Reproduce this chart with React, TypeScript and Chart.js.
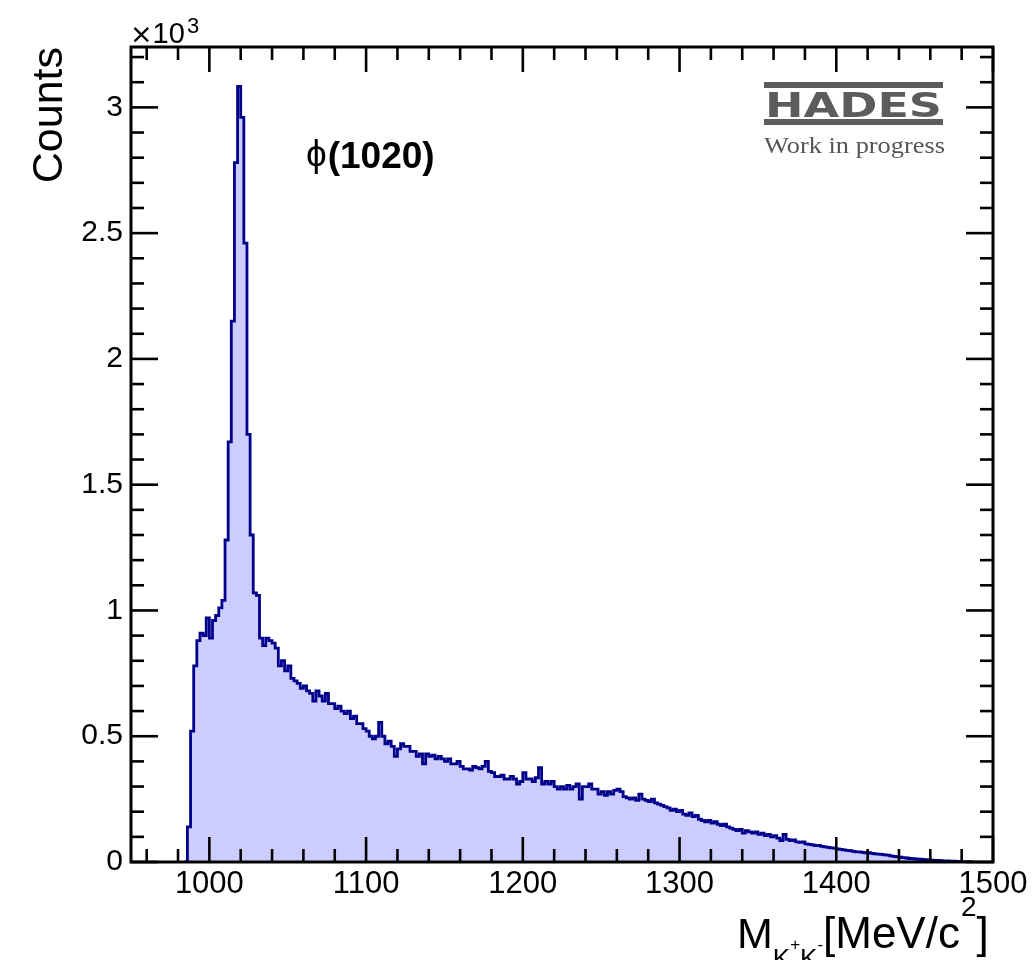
import React, { useEffect, useRef } from "react";
import { Chart, registerables } from "chart.js";

Chart.register(...registerables);

// ---- data ----
const binLow = 986; // low edge of first filled bin [MeV/c^2]
const binWidth = 2; // MeV/c^2
const counts = [
  140, 520, 780, 880, 910, 900, 970, 890, 960, 980,
  1010, 1040, 1280, 1670, 2150, 2780, 3083, 2960, 2460, 1700,
  1300, 1070, 1060, 890, 860, 890, 880, 870, 850, 780,
  800, 760, 780, 730, 720, 710, 690, 700, 680, 670,
  640, 680, 660, 640, 670, 630, 630, 610, 620, 600,
  590, 600, 570, 580, 550, 550, 530, 520, 500, 490,
  500, 555, 500, 470, 480, 460, 420, 450, 470, 460,
  460, 440, 440, 420, 430, 390, 430, 420, 425, 410,
  420, 410, 400, 410, 390, 390, 400, 380, 370, 370,
  365, 380, 375, 370, 380, 400, 360, 355, 340, 340,
  345, 330, 330, 340, 330, 310, 320, 355, 330, 330,
  320, 335, 375, 310, 320, 310, 320, 300, 290, 300,
  290, 305, 290, 300, 310, 250, 300, 300, 310, 290,
  290, 270, 280, 265, 280, 270, 285, 290, 280, 260,
  255, 250, 255, 245, 270, 250, 245, 240, 250, 235,
  230, 225, 220, 215, 205, 210, 200, 205, 190, 185,
  195, 180, 185, 170, 165, 160, 165, 155, 160, 150,
  145, 150, 140, 135, 130, 125, 130, 115, 125, 120,
  115, 120, 110, 115, 105, 110, 100, 105, 95, 85,
  110, 90, 85, 88, 80, 78, 80, 72, 70, 68,
  65, 66, 62, 60, 58, 56, 55, 52, 50, 48,
  46, 45, 42, 40, 40, 38, 36, 37, 34, 32,
  31, 30, 28, 27, 24, 22, 20, 19, 17, 16,
  14, 13, 12, 11, 10, 9, 8, 7, 6, 6,
  5, 4, 4, 3, 3, 2, 2, 1, 1, 1,
];
const xRange = [950, 1500];
const yRange = [0, 3240];
const xMajorTicks = [1000, 1100, 1200, 1300, 1400, 1500];
const yMajorTicks = [0, 500, 1000, 1500, 2000, 2500, 3000];
const minorDivisions = 5;
const yTitle = "Counts";
const yExponent = ["\u00d7", "10", "3"];
const peakSymbol = "\u03d5";
const peakText = "(1020)";
const logoName = "HADES";
const logoSub = "Work in progress";

const SANS = "'Liberation Sans', Arial, Helvetica, sans-serif";
const SERIF = "'Liberation Serif', 'DejaVu Serif', serif";

const rootStyle = {
  id: "rootStyle",
  afterDraw(chart: any) {
    const { ctx, chartArea: a, scales } = chart;
    const x = scales.x;
    const y = scales.y;
    ctx.save();
    ctx.strokeStyle = "#000";
    ctx.lineCap = "butt";

    const seg = (x1: number, y1: number, x2: number, y2: number) => {
      ctx.beginPath();
      ctx.moveTo(x1, y1);
      ctx.lineTo(x2, y2);
      ctx.stroke();
    };

    // inward ticks on all four sides
    ctx.lineWidth = 2.6;
    const xMajStep = xMajorTicks[1] - xMajorTicks[0];
    const xMin = xMajStep / minorDivisions;
    const x0 = xMajorTicks[0];
    for (let k = Math.ceil((x.min - x0) / xMin); x0 + k * xMin <= x.max + 1e-9; k++) {
      const v = x0 + k * xMin;
      const px = x.getPixelForValue(v);
      const len = k % minorDivisions === 0 ? 25 : 13;
      seg(px, a.bottom, px, a.bottom - len);
      seg(px, a.top, px, a.top + len);
    }
    const yMajStep = yMajorTicks[1] - yMajorTicks[0];
    const yMin = yMajStep / minorDivisions;
    const y0 = yMajorTicks[0];
    for (let k = Math.ceil((y.min - y0) / yMin); y0 + k * yMin <= y.max + 1e-9; k++) {
      const v = y0 + k * yMin;
      const py = y.getPixelForValue(v);
      const len = k % minorDivisions === 0 ? 27 : 13;
      seg(a.left, py, a.left + len, py);
      seg(a.right, py, a.right - len, py);
    }

    // frame
    ctx.lineWidth = 3;
    ctx.strokeRect(a.left, a.top, a.right - a.left, a.bottom - a.top);

    ctx.fillStyle = "#000";
    ctx.textBaseline = "alphabetic";
    ctx.textAlign = "left";

    // y title (rotated, right-aligned to top of frame)
    ctx.save();
    ctx.translate(62, a.top);
    ctx.rotate(-Math.PI / 2);
    ctx.font = `43px ${SANS}`;
    ctx.textAlign = "right";
    ctx.fillText(yTitle, 0, 0);
    ctx.restore();

    let cx = 0;
    const put = (t: string, size: number, by: number, bold = false, fam = SANS) => {
      ctx.font = `${bold ? "bold " : ""}${size}px ${fam}`;
      ctx.fillText(t, cx, by);
      cx += ctx.measureText(t).width;
    };

    // x10^3 exponent
    cx = a.left - 1;
    put(yExponent[0], 27, 43, false, `'DejaVu Sans', ${SANS}`);
    put(yExponent[1], 29, 43);
    cx += 2;
    put(yExponent[2], 22, 33);

    // x title: M_{K^{+}K^{-}} [MeV/c^{2}]
    cx = 737;
    const base = 948;
    put("M", 43, base);
    put("K", 26, base + 19);
    put("+", 17, base + 2);
    put("K", 26, base + 19);
    put("-", 17, base + 2);
    cx = 823;
    put("[MeV/c", 44, base);
    cx += 1;
    put("2", 28, base - 32);
    put("]", 44, base);

    // peak label
    cx = 306;
    put(peakSymbol, 37, 166);
    cx += 1;
    put(peakText, 37, 168, true);

    // HADES logo
    const lx = 764;
    const lw = 179;
    ctx.fillStyle = "#5c5c5c";
    ctx.fillRect(lx, 82, lw, 6);
    ctx.fillRect(lx, 119, lw, 6);
    ctx.font = `bold 35px 'DejaVu Sans', ${SANS}`;
    const nw = ctx.measureText(logoName).width;
    ctx.save();
    ctx.translate(lx + 1, 117);
    ctx.scale((lw - 2) / nw, 0.98);
    ctx.fillText(logoName, 0, 0);
    ctx.restore();
    ctx.fillStyle = "#555";
    ctx.font = `23px ${SERIF}`;
    const sw = ctx.measureText(logoSub).width;
    ctx.save();
    ctx.translate(lx, 153);
    ctx.scale(181 / sw, 1);
    ctx.fillText(logoSub, 0, 0);
    ctx.restore();

    ctx.restore();
  },
};

export default function App() {
  const ref = useRef<HTMLCanvasElement | null>(null);

  useEffect(() => {
    if (!ref.current) return;
    const points: { x: number; y: number }[] = [];
    points.push({ x: binLow - binWidth, y: 0 });
    counts.forEach((c, i) => points.push({ x: binLow + i * binWidth, y: c }));
    points.push({ x: binLow + counts.length * binWidth, y: 0 });

    const chart = new Chart(ref.current, {
      type: "line",
      data: {
        datasets: [
          {
            data: points,
            stepped: true,
            borderColor: "rgb(0,0,140)",
            borderWidth: 2.8,
            backgroundColor: "rgb(204,204,255)",
            fill: "origin",
            pointRadius: 0,
            tension: 0,
          },
        ],
      },
      options: {
        responsive: false,
        animation: false,
        devicePixelRatio: 1,
        events: [],
        layout: { padding: { top: 47, right: 43, left: 0, bottom: 0 } },
        plugins: { legend: { display: false }, tooltip: { enabled: false } },
        scales: {
          x: {
            type: "linear",
            min: xRange[0],
            max: xRange[1],
            grid: { display: false, drawTicks: false },
            border: { display: false },
            afterFit: (s: any) => {
              s.height = 98;
            },
            afterBuildTicks: (s: any) => {
              s.ticks = xMajorTicks.map((v) => ({ value: v }));
            },
            ticks: {
              color: "#000",
              font: { size: 31, family: SANS },
              padding: 4,
              maxRotation: 0,
              autoSkip: false,
              callback: (v: any) => String(v),
            },
          },
          y: {
            type: "linear",
            min: yRange[0],
            max: yRange[1],
            grid: { display: false, drawTicks: false },
            border: { display: false },
            afterFit: (s: any) => {
              s.width = 131;
            },
            afterBuildTicks: (s: any) => {
              s.ticks = yMajorTicks.map((v) => ({ value: v }));
            },
            ticks: {
              color: "#000",
              font: { size: 30, family: SANS },
              padding: 8,
              autoSkip: false,
              callback: (v: any) => String(Number(v) / 1000),
            },
          },
        },
      },
      plugins: [rootStyle],
    });
    return () => chart.destroy();
  }, []);

  return (
    <div style={{ position: "fixed", left: 0, top: 0, width: 1036, height: 960, background: "#fff" }}>
      <canvas ref={ref} width={1036} height={960} style={{ display: "block" }} />
    </div>
  );
}
